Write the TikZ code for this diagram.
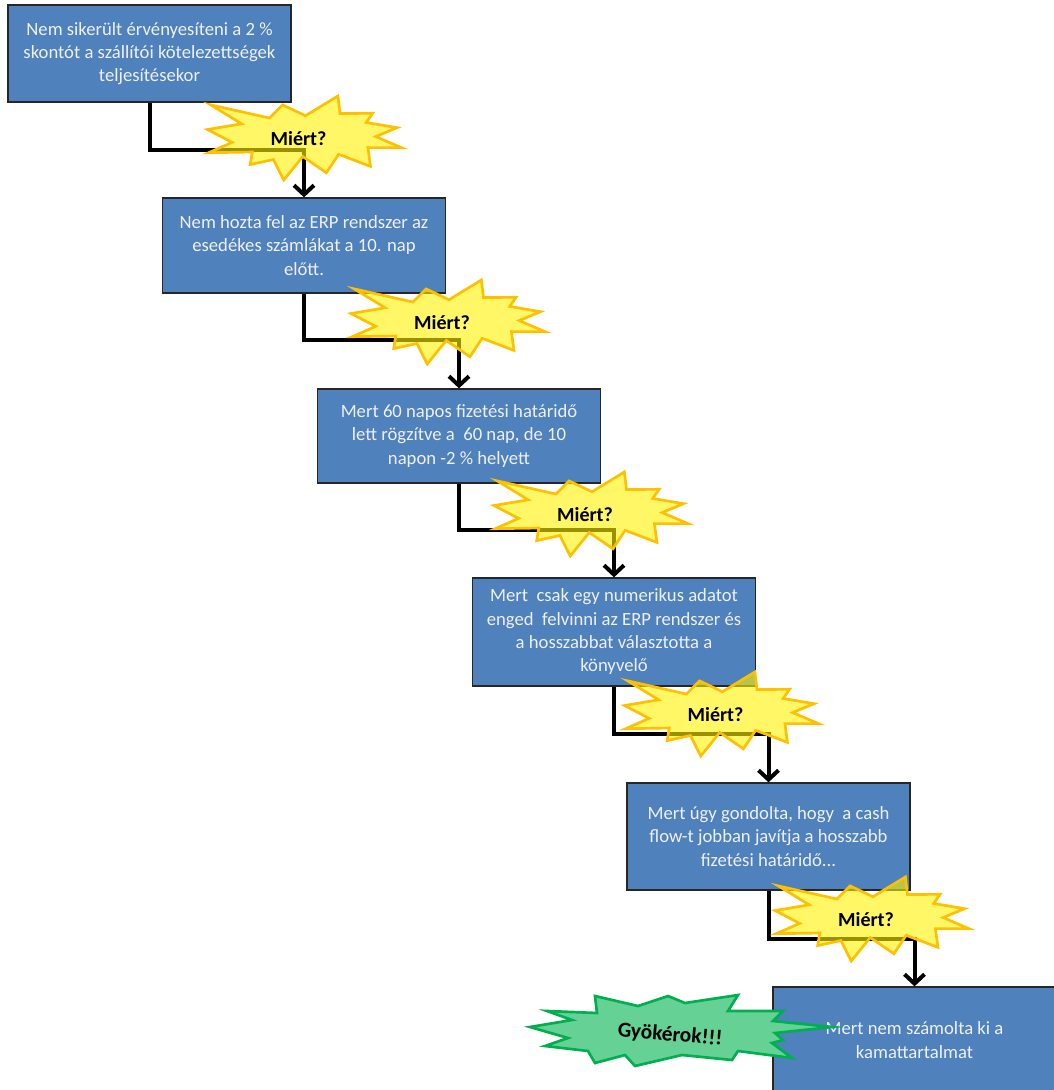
\documentclass[tikz,border=0pt]{standalone}
\usepackage{fontspec}
\setmainfont{Carlito}
\usetikzlibrary{arrows.meta}

\begin{document}
\begin{tikzpicture}[x=0.75pt,y=-0.75pt,
    box/.style={draw=black!85,line width=1pt,fill={rgb,255:red,79;green,129;blue,189},
        text={rgb,255:red,238;green,240;blue,245},align=center,minimum width=212.25pt,
        font=\fontsize{14}{17.5}\selectfont},
    conn/.style={line width=3pt,-{Straight Barb[length=7pt,width=15pt]}},
    why/.style={font=\fontsize{15}{17}\selectfont\bfseries},
    burst/.pic={\draw[line width=2pt,draw={rgb,255:red,255;green,192;blue,0},fill=yellow,fill opacity=0.6,
        shift={(-91,-43)},xscale=194,yscale=84]
        (0.505,0.235) -- (0.672,0.000) -- (0.683,0.209) -- (0.851,0.206) -- (0.818,0.315) -- (0.977,0.377)
        -- (0.867,0.483) -- (1.000,0.615) -- (0.827,0.614) -- (0.840,0.838) -- (0.676,0.694) -- (0.613,0.914)
        -- (0.491,0.720) -- (0.393,1.000) -- (0.340,0.756) -- (0.220,0.816) -- (0.231,0.667) -- (0.006,0.675)
        -- (0.127,0.552) -- (0.000,0.399) -- (0.176,0.331) -- (0.017,0.106) -- (0.319,0.262) -- (0.387,0.106)
        -- cycle;}]
    \useasboundingbox (0,0) rectangle (1054,1090);
    \node[box,minimum height=72.75pt] (b1) at (149.5,53.5) {Nem sikerült érvényesíteni a 2 \%\\skontót a szállítói kötelezettségek\\teljesítésekor};
    \node[box,minimum height=71.25pt] (b2) at (304,245.5) {Nem hozta fel az ERP rendszer az\\esedékes számlákat a 10. nap\\előtt.};
    \node[box,minimum height=70.5pt] (b3) at (459,436) {Mert 60 napos fizetési határidő\\lett rögzítve a \ 60 nap, de 10\\napon -2 \% helyett};
    \node[box,minimum height=81pt] (b4) at (614,632) {Mert \ csak egy numerikus adatot\\enged \ felvinni az ERP rendszer és\\a hosszabbat választotta a\\könyvelő};
    \node[box,minimum height=80.25pt] (b5) at (768.5,836.5) {Mert úgy gondolta, hogy \ a cash\\flow-t jobban javítja a hosszabb\\fizetési határidő...};
    \node[box,minimum height=79.5pt] (b6) at (914.5,1040) {Mert nem számolta ki a\\kamattartalmat};
    \draw[conn] (b1.south) -- ++(0,47) -| (b2.north);
    \draw[conn] (b2.south) -- ++(0,46) -| (b3.north);
    \draw[conn] (b3.south) -- ++(0,46) -| (b4.north);
    \draw[conn] (b4.south) -- ++(0,47) -| (b5.north);
    \draw[conn] (b5.south) -- ++(0,48) -| (b6.north);
    \foreach \n/\x/\y in {1/298.5/139,2/442/323,3/585/515,4/715.5/715,5/866/920}{
        \pic at (\x,\y) {burst};
        \node[why] (m\n) at (\x,\y) {Miért?};
    }
    \draw[line width=2pt,draw={rgb,255:red,0;green,176;blue,80},fill={rgb,255:red,102;green,209;blue,148}]
        (530,1027) -- (572,1020) -- (547,1011) -- (597,1013) -- (595,996) -- (638,1006) -- (668,996)
        -- (685,1003) -- (738,995) -- (728,1011) -- (783,1011) -- (773,1021) -- (832,1027) -- (775,1033)
        -- (783,1040) -- (772,1043) -- (792,1058) -- (738,1051) -- (732,1060) -- (682,1055) -- (635,1066)
        -- (625,1055) -- (595,1063) -- (588,1051) -- (545,1046) -- (568,1038) -- cycle;
    \node[why,font=\fontsize{16}{18}\selectfont\bfseries,rotate=-5] (root) at (670,1035) {Gyökérok!!!};
\end{tikzpicture}
\end{document}
